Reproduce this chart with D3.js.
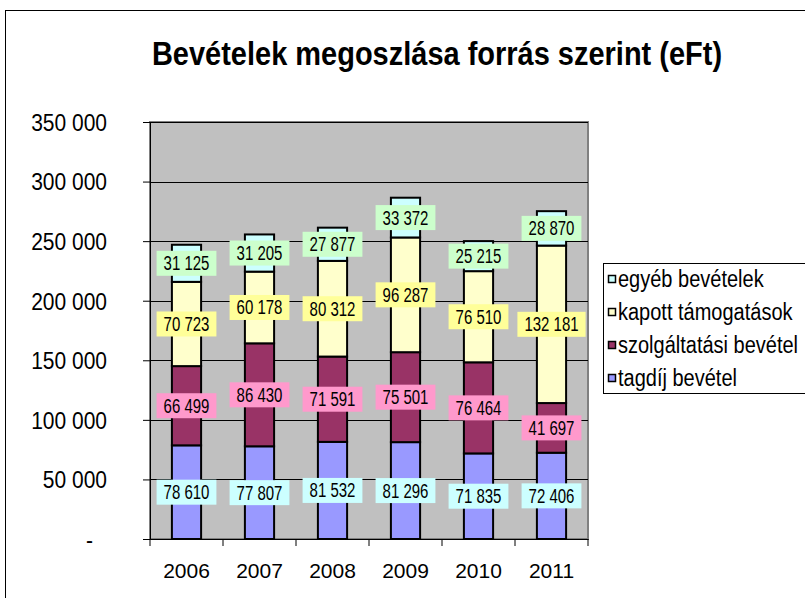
<!DOCTYPE html>
<html>
<head>
<meta charset="utf-8">
<script src="https://cdn.jsdelivr.net/npm/d3@7"></script>
<style>
  body { margin: 0; background: #fff; }
  text { font-family: "Liberation Sans", Arial, sans-serif; fill: #000; }
</style>
</head>
<body>
<div id="chart"></div>
<script>
var years = ["2006", "2007", "2008", "2009", "2010", "2011"];
var tagdij = [78610, 77807, 81532, 81296, 71835, 72406];
var szolg = [66499, 86430, 71591, 75501, 76464, 41697];
var kapott = [70723, 60178, 80312, 96287, 76510, 132181];
var egyeb = [31125, 31205, 27877, 33372, 25215, 28870];
var seriesNames = ["tagdíj bevétel", "szolgáltatási bevétel", "kapott támogatások", "egyéb bevételek"];
var yTicks = [0, 50000, 100000, 150000, 200000, 250000, 300000, 350000];

var fills = ["#9999ff", "#993366", "#ffffcc", "#ccffff"];
var boxFills = ["#ccffff", "#ff99cc", "#ffff99", "#ccffcc"];

function main(){
  var w = 805, h = 598;
  var svg = d3.select("#chart").append("svg")
    .attr("width", w).attr("height", h);

  // outer chart border
  svg.append("rect")
    .attr("x", 5.5).attr("y", 10.5)
    .attr("width", 820).attr("height", 620)
    .attr("fill", "#fff").attr("stroke", "#000").attr("stroke-width", 1);

  svg.append("text")
    .attr("transform", "translate(437,65) scale(1,1.12)")
    .attr("text-anchor", "middle")
    .attr("font-size", 29).attr("font-weight", "bold")
    .text("Bevételek megoszlása forrás szerint (eFt)");

  var pl = 150, pr = 588, pt = 122, pb = 539;

  var x = d3.scaleBand().domain(years).range([pl, pr]);
  var y = d3.scaleLinear().domain([0, 350000]).range([pb, pt]);

  // plot area
  svg.append("rect")
    .attr("x", pl).attr("y", pt)
    .attr("width", pr - pl).attr("height", pb - pt)
    .attr("fill", "#c0c0c0").attr("stroke", "#808080").attr("stroke-width", 2);

  svg.append("g").selectAll("line")
    .data(yTicks.slice(1))
    .enter().append("line")
    .attr("x1", pl).attr("x2", pr)
    .attr("y1", d => Math.round(y(d)) + 0.5).attr("y2", d => Math.round(y(d)) + 0.5)
    .attr("stroke", "#000").attr("stroke-width", 1);

  var fmt = function(d) {
    return d === 0 ? "-" : d3.format(",")(d).replace(/,/g, " ");
  };

  var yAxis = d3.axisLeft(y).tickValues(yTicks).tickSize(7).tickPadding(36).tickFormat(fmt);
  var gy = svg.append("g").attr("transform", "translate(" + pl + ",0)").call(yAxis);
  gy.select(".domain").attr("stroke", "#000");
  gy.selectAll("text").attr("font-size", 21).attr("font-family", "Liberation Sans, Arial")
    .attr("dy", "0.36em")
    .attr("dx", d => d === 0 ? -14 : 0)
    .attr("transform", "scale(1,1.1)");

  var xAxis = d3.axisBottom(x).tickSize(0).tickPadding(24);
  var gx = svg.append("g").attr("transform", "translate(0," + pb + ")").call(xAxis);
  gx.select(".domain").attr("stroke", "#000");
  gx.selectAll("text").attr("font-size", 21).attr("font-family", "Liberation Sans, Arial");
  gx.selectAll(".bnd").data(years.concat(["end"])).enter().append("line")
    .attr("x1", (d, i) => pl + i * x.step()).attr("x2", (d, i) => pl + i * x.step())
    .attr("y1", 0).attr("y2", 7).attr("stroke", "#000");

  var rows = years.map(function(yr, i) {
    return { year: yr, s0: tagdij[i], s1: szolg[i], s2: kapott[i], s3: egyeb[i] };
  });
  var layers = d3.stack().keys(["s0", "s1", "s2", "s3"])(rows);

  var bw = x.bandwidth() * 0.4;
  var layerG = svg.append("g").selectAll("g")
    .data(layers).enter().append("g")
    .attr("fill", (d, i) => fills[i]);

  layerG.selectAll("rect")
    .data(d => d).enter().append("rect")
    .attr("x", d => x(d.data.year) + (x.bandwidth() - bw) / 2)
    .attr("width", bw)
    .attr("y", d => y(d[1]))
    .attr("height", d => y(d[0]) - y(d[1]))
    .attr("stroke", "#000").attr("stroke-width", 2);

  // data labels
  var labG = svg.append("g");
  layers.forEach(function(layer, li) {
    layer.forEach(function(d) {
      var cx = x(d.data.year) + x.bandwidth() / 2;
      var cy = y((d[0] + d[1]) / 2);
      var g = labG.append("g").attr("transform", "translate(" + cx + "," + cy + ")");
      var t = g.append("text")
        .attr("text-anchor", "middle")
        .attr("font-size", 15)
        .attr("dy", "0.36em")
        .attr("transform", "scale(1,1.3)")
        .text(fmt(d[1] - d[0]));
      var tw = t.node().getComputedTextLength();
      g.insert("rect", "text")
        .attr("x", -tw / 2 - 7).attr("y", -12.5)
        .attr("width", tw + 14).attr("height", 25)
        .attr("fill", boxFills[li]);
    });
  });

  // legend
  var lg = svg.append("g").attr("transform", "translate(603,263)");
  lg.append("rect").attr("x", 0.5).attr("y", 0.5).attr("width", 230).attr("height", 130)
    .attr("fill", "#fff").attr("stroke", "#000");
  [3, 2, 1, 0].forEach(function(si, k) {
    var yy = 16 + k * 33;
    lg.append("rect").attr("x", 5.5).attr("y", yy - 3.5).attr("width", 7).attr("height", 7)
      .attr("fill", fills[si]).attr("stroke", "#000").attr("stroke-width", 1.5);
    lg.append("text")
      .attr("transform", "translate(15," + yy + ") scale(1,1.15)")
      .attr("dy", "0.36em")
      .attr("font-size", 20).text(seriesNames[si]);
  });
}

main();
</script>
</body>
</html>
